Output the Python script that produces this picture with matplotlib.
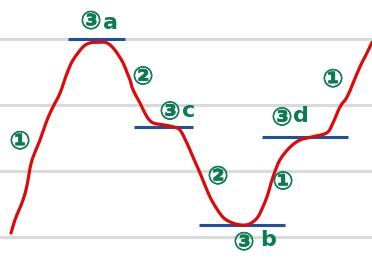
import numpy as np
import matplotlib.pyplot as plt
import matplotlib.patheffects as pe
from matplotlib.path import Path
from matplotlib.patches import PathPatch

# levels: gridlines at 0..3, x measured in arbitrary units across the width
grid_levels = [0, 1, 2, 3]

curve_x = [11, 15, 19, 23, 27, 30, 33, 40, 47, 53, 60, 67, 73, 83, 90, 97, 107,
           115, 123, 127, 130, 133, 140, 147, 153, 163, 173, 180, 187, 193, 200,
           207, 213, 223, 233, 243, 250, 256, 260, 267, 273, 280, 290, 300, 313,
           327, 333, 340, 347, 353, 360, 367, 372]
curve_y = [0.06, 0.26, 0.41, 0.56, 0.78, 1.04, 1.21, 1.47, 1.77, 1.97, 2.18,
           2.48, 2.68, 2.88, 2.94, 2.95, 2.94, 2.83, 2.64, 2.49, 2.38, 2.23,
           2.03, 1.82, 1.73, 1.70, 1.67, 1.62, 1.42, 1.21, 0.97, 0.71, 0.52,
           0.30, 0.21, 0.18, 0.20, 0.27, 0.36, 0.61, 0.91, 1.17, 1.36, 1.47,
           1.52, 1.58, 1.73, 1.97, 2.12, 2.33, 2.58, 2.79, 2.95]

# short blue levels: (x start, x end, level)
seg_x0 = [68, 134, 199, 262]
seg_x1 = [125, 193, 285, 348]
seg_y = [3.00, 1.67, 0.18, 1.52]

# circled step numbers and the point letters next to some of them
mark_text = ["③", "②", "③", "①", "②", "③", "③", "①", "①"]
mark_x = [91, 143, 170, 20, 218, 244, 282, 333, 283]
mark_y = [3.26, 2.42, 1.89, 1.44, 0.91, -0.09, 1.80, 2.38, 0.83]
letter_text = ["a", "c", "b", "d"]
letter_x = [111, 189, 268, 301]
letter_y = [3.24, 1.91, -0.05, 1.83]

fig = plt.figure(figsize=(3.72, 2.60), dpi=100)
ax = fig.add_axes([0, 0, 1, 1])
ax.set_xlim(0, 372)
ax.set_ylim(-23 / 66, 237 / 66)
ax.axis("off")

for g in grid_levels:
    ax.axhline(g, color="#dadada", lw=2.2, zorder=1)

ax.hlines(seg_y, seg_x0, seg_x1, color="#1f4fa0", lw=2.2, zorder=2)

# smooth pen stroke through the read points (Catmull-Rom as cubic Beziers)
pts = np.column_stack([curve_x, curve_y]).astype(float)
p = np.vstack([pts[0], pts, pts[-1]])
verts = [tuple(pts[0])]
codes = [Path.MOVETO]
for i in range(1, len(p) - 2):
    c1 = p[i] + (p[i + 1] - p[i - 1]) / 6
    c2 = p[i + 1] - (p[i + 2] - p[i]) / 6
    verts += [tuple(c1), tuple(c2), tuple(p[i + 1])]
    codes += [Path.CURVE4] * 3
ax.add_patch(PathPatch(Path(verts, codes), fill=False, edgecolor="#dd0a0a",
                       lw=2.3, capstyle="round", joinstyle="round", zorder=3))

green = "#0d7a52"
thick = [pe.withStroke(linewidth=0.45, foreground=green)]
for t, x, y in zip(mark_text, mark_x, mark_y):
    ax.text(x, y, t, color=green, fontsize=18, fontweight="bold",
            ha="center", va="center", zorder=4, path_effects=thick)
for t, x, y in zip(letter_text, letter_x, letter_y):
    ax.text(x, y, t, color=green, fontsize=16, fontweight="bold",
            ha="center", va="center", zorder=4)

fig.savefig("out.png", dpi=100, facecolor="white")
